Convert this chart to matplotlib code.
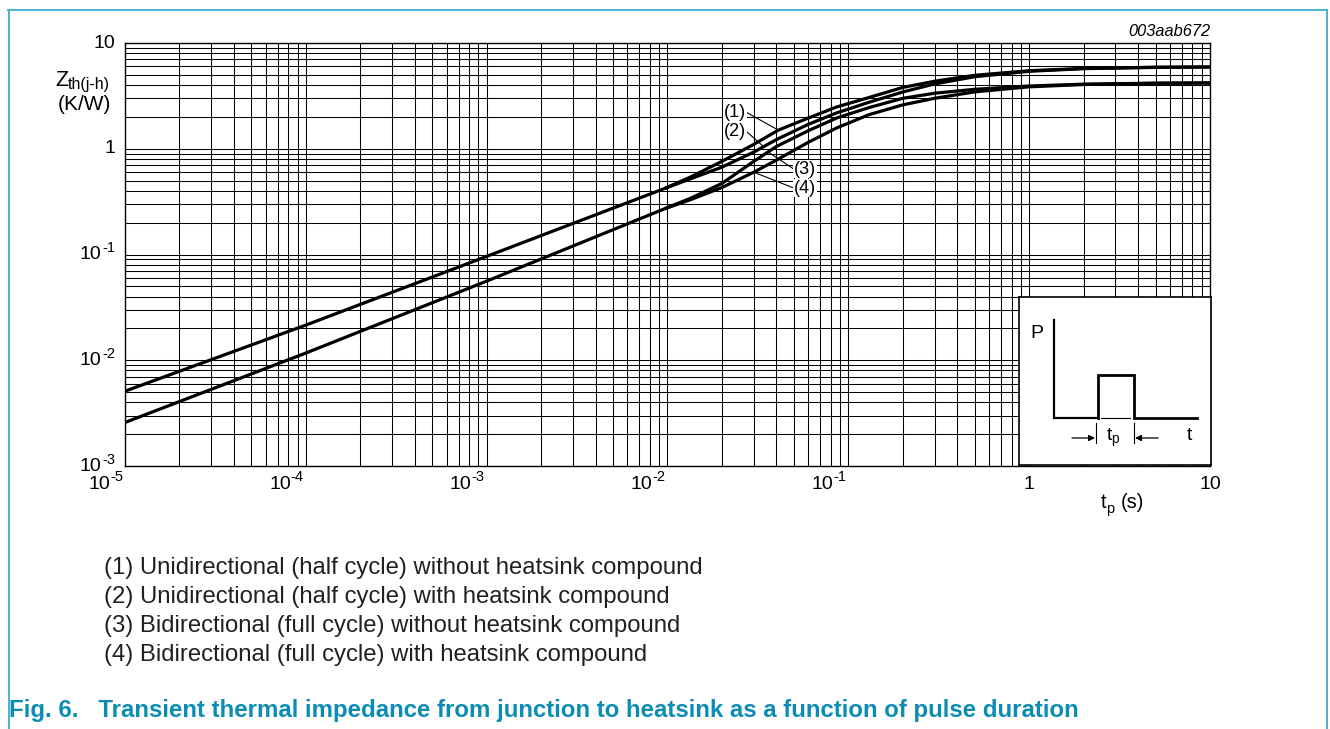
import numpy as np
import matplotlib
matplotlib.use("Agg")
import matplotlib.pyplot as plt
from matplotlib.lines import Line2D
import matplotlib.transforms as mtrans

plt.rcParams['font.family'] = ['Liberation Sans', 'DejaVu Sans']
plt.rcParams['mathtext.default'] = 'regular'
plt.rcParams['axes.unicode_minus'] = False

# ---------------- data ----------------
t_base = [1e-5, 1e-4, 1e-3, 0.0096]
z_base_upper = [0.0051, 0.0215, 0.096, 0.42]     # curves (1),(2) before they part
z_base_lower = [0.00258, 0.0117, 0.056, 0.27]    # curves (3),(4) before they part

t_c1 = [0.0096, 0.0134, 0.02, 0.03, 0.041, 0.06, 0.086, 0.13, 0.2, 0.3, 0.5, 1, 2, 5, 10]
z_c1 = [0.42, 0.54, 0.76, 1.1, 1.5, 1.95, 2.48, 3.05, 3.8, 4.35, 4.95, 5.47, 5.75, 5.9, 5.93]
t_c2 = [0.0096, 0.0134, 0.02, 0.03, 0.04, 0.06, 0.086, 0.13, 0.2, 0.3, 0.5, 1, 2, 5, 10]
z_c2 = [0.42, 0.52, 0.67, 0.93, 1.22, 1.7, 2.18, 2.75, 3.44, 4.1, 4.8, 5.4, 5.72, 5.88, 5.93]
t_c3 = [0.0096, 0.0134, 0.02, 0.03, 0.04, 0.06, 0.086, 0.13, 0.2, 0.3, 0.5, 1, 2, 5, 10]
z_c3 = [0.27, 0.34, 0.47, 0.76, 1.05, 1.48, 1.95, 2.45, 3.0, 3.35, 3.65, 3.92, 4.08, 4.17, 4.19]
t_c4 = [0.0096, 0.0134, 0.02, 0.03, 0.04, 0.06, 0.086, 0.13, 0.2, 0.3, 0.5, 1, 2, 5, 10]
z_c4 = [0.27, 0.33, 0.43, 0.6, 0.78, 1.15, 1.57, 2.1, 2.6, 3.0, 3.45, 3.85, 4.05, 4.16, 4.19]

curve_labels = ['(1)', '(2)', '(3)', '(4)']
legend_lines = [
    '(1) Unidirectional (half cycle) without heatsink compound',
    '(2) Unidirectional (half cycle) with heatsink compound',
    '(3) Bidirectional (full cycle) without heatsink compound',
    '(4) Bidirectional (full cycle) with heatsink compound',
]
x_ticks = [1e-5, 1e-4, 1e-3, 1e-2, 1e-1, 1, 10]
x_tick_base = ['10', '10', '10', '10', '10', '1', '10']
x_tick_exp = ['-5', '-4', '-3', '-2', '-1', '', '']
y_ticks = [1e-3, 1e-2, 1e-1, 1, 10]
y_tick_base = ['10', '10', '10', '1', '10']
y_tick_exp = ['-3', '-2', '-1', '', '']

# ---------------- figure ----------------
W, H = 1330, 729
fig = plt.figure(figsize=(W / 100, H / 100), dpi=100)
renderer = fig.canvas.get_renderer()

def px(x, y):
    return x / W, 1 - y / H

L, R, T, B = 125, 1210, 43, 466
ax = fig.add_axes([L / W, 1 - B / H, (R - L) / W, (B - T) / H])
ax.set_xscale('log')
ax.set_yscale('log')
ax.set_xlim(1e-5, 10)
ax.set_ylim(1e-3, 10)
ax.xaxis.set_major_locator(matplotlib.ticker.FixedLocator(x_ticks))
ax.yaxis.set_major_locator(matplotlib.ticker.FixedLocator(y_ticks))
ax.xaxis.set_minor_locator(matplotlib.ticker.LogLocator(base=10, subs=np.arange(2, 10), numticks=20))
ax.yaxis.set_minor_locator(matplotlib.ticker.LogLocator(base=10, subs=np.arange(2, 10), numticks=20))
ax.xaxis.set_major_formatter(matplotlib.ticker.NullFormatter())
ax.yaxis.set_major_formatter(matplotlib.ticker.NullFormatter())
ax.xaxis.set_minor_formatter(matplotlib.ticker.NullFormatter())
ax.yaxis.set_minor_formatter(matplotlib.ticker.NullFormatter())
ax.tick_params(which='both', length=0)
ax.grid(which='both', color='black', lw=0.75)
for s in ax.spines.values():
    s.set_linewidth(1.0)

FS_BASE, FS_EXP = 14, 10.5

def off(tr, dx, dy):
    return mtrans.offset_copy(tr, fig=fig, x=dx, y=dy, units='dots')

# x tick labels: base "10" with a raised exponent, sitting just left of the gridline
xtr = ax.get_xaxis_transform()
for xv, b, e in zip(x_ticks, x_tick_base, x_tick_exp):
    if e:
        ax.text(xv, 0, b, transform=off(xtr, -15, -18), ha='right', va='center', fontsize=FS_BASE)
        ax.text(xv, 0, e, transform=off(xtr, -15, -11), ha='left', va='center', fontsize=FS_EXP)
    else:
        ax.text(xv, 0, b, transform=off(xtr, 0, -18), ha='center', va='center', fontsize=FS_BASE)

# y tick labels: right-aligned at x = 115 px
ytr = ax.get_yaxis_transform()
for yv, b, e in zip(y_ticks, y_tick_base, y_tick_exp):
    if e:
        te = ax.text(0, yv, e, transform=off(ytr, -10, 6), ha='right', va='center', fontsize=FS_EXP)
        w = te.get_window_extent(renderer=renderer).width
        ax.text(0, yv, b, transform=off(ytr, -10 - w - 0.5, 0), ha='right', va='center', fontsize=FS_BASE)
    else:
        ax.text(0, yv, b, transform=off(ytr, -10, 0), ha='right', va='center', fontsize=FS_BASE)

lw = 2.3
ax.plot(t_base, z_base_upper, color='black', lw=lw, solid_capstyle='butt')
ax.plot(t_base, z_base_lower, color='black', lw=lw, solid_capstyle='butt')
curves = [(t_c1, z_c1), (t_c2, z_c2), (t_c3, z_c3), (t_c4, z_c4)]
for tt, zz in curves:
    ax.plot(tt, zz, color='black', lw=lw, solid_capstyle='butt')

# curve labels with leader lines
lab_pos = [(0.0236, 2.22), (0.0236, 1.47), (0.0575, 0.643), (0.0575, 0.425)]
lead_t = [0.041, 0.034, 0.036, 0.030]
relpos = [(1, 0.5), (1, 0.5), (0, 0.5), (0, 0.5)]
for (tt, zz), lbl, pos, lt, rp in zip(curves, curve_labels, lab_pos, lead_t, relpos):
    zt = 10 ** np.interp(np.log10(lt), np.log10(tt), np.log10(zz))
    ax.annotate(lbl, xy=(lt, zt), xytext=pos, ha='center', va='center', fontsize=13,
                bbox=dict(fc='white', ec='none', pad=0.5),
                arrowprops=dict(arrowstyle='-', lw=0.8, color='black', relpos=rp,
                                shrinkA=0, shrinkB=0), zorder=5)

# axis titles
fig.text(*px(55, 80), 'Z', ha='left', va='center', fontsize=15.5)
fig.text(*px(68, 85), 'th(j-h)', ha='left', va='center', fontsize=11.5)
fig.text(*px(84, 105), '(K/W)', ha='center', va='center', fontsize=15)
fig.text(*px(1106, 503), 't', ha='right', va='center', fontsize=14.5)
fig.text(*px(1106, 509), 'p', ha='left', va='center', fontsize=10.5)
fig.text(*px(1121, 503), '(s)', ha='left', va='center', fontsize=14.5)
fig.text(*px(1210, 31), '003aab672', ha='right', va='center', fontsize=11.8, style='italic')

# ---------------- inset pulse schematic ----------------
ix0, iy0, ix1, iy1 = 1019, 297, 1211, 465
iax = fig.add_axes([ix0 / W, 1 - iy1 / H, (ix1 - ix0) / W, (iy1 - iy0) / H], zorder=10)
iax.set_xlim(0, ix1 - ix0)
iax.set_ylim(iy1 - iy0, 0)
iax.set_xticks([])
iax.set_yticks([])
iax.set_facecolor('white')
for s in iax.spines.values():
    s.set_linewidth(1.2)
pulse_x = [35, 35, 79, 79, 115, 115, 178]
pulse_y = [23, 121, 121, 78, 78, 121, 121]
iax.plot(pulse_x[:3], pulse_y[:3], color='black', lw=1.6, solid_joinstyle='miter')
iax.plot(pulse_x[2:], pulse_y[2:], color='black', lw=2.0, solid_joinstyle='miter')
iax.plot([35, 35], [23, 121], color='black', lw=1.2)
iax.plot([82, 111], [121, 121], color='black', lw=0.8)
iax.plot([77, 77], [126, 146], color='black', lw=0.8)
iax.plot([115, 115], [126, 146], color='black', lw=0.8)
iax.annotate('', xy=(76, 141), xytext=(53, 141),
             arrowprops=dict(arrowstyle='-|>', lw=0.9, color='black', mutation_scale=9,
                             shrinkA=0, shrinkB=0))
iax.annotate('', xy=(116, 141), xytext=(139, 141),
             arrowprops=dict(arrowstyle='-|>', lw=0.9, color='black', mutation_scale=9,
                             shrinkA=0, shrinkB=0))
iax.text(94, 141, r'$t_p$', ha='center', va='center', fontsize=14)
iax.text(170, 138, 't', ha='center', va='center', fontsize=14)
iax.text(18, 36, 'P', ha='center', va='center', fontsize=14)

# ---------------- legend text and caption ----------------
for i, s in enumerate(legend_lines):
    fig.text(*px(104, 568 + 29.1 * i), s, ha='left', va='center', fontsize=17.2, color='#231f20')
fig.text(*px(9, 711), 'Fig. 6.   Transient thermal impedance from junction to heatsink as a function of pulse duration',
         ha='left', va='center', fontsize=17.3, fontweight='bold', color='#0b8cb4')

# frame lines
border = '#4db3d1'
fig.add_artist(Line2D([8 / W, 1327 / W], [1 - 10 / H, 1 - 10 / H], color=border, lw=1.4))
fig.add_artist(Line2D([8.5 / W, 8.5 / W], [0, 1 - 10 / H], color=border, lw=1.4))
fig.add_artist(Line2D([1327 / W, 1327 / W], [0, 1 - 10 / H], color=border, lw=1.4))

fig.savefig('out.png', dpi=100, facecolor='white')
